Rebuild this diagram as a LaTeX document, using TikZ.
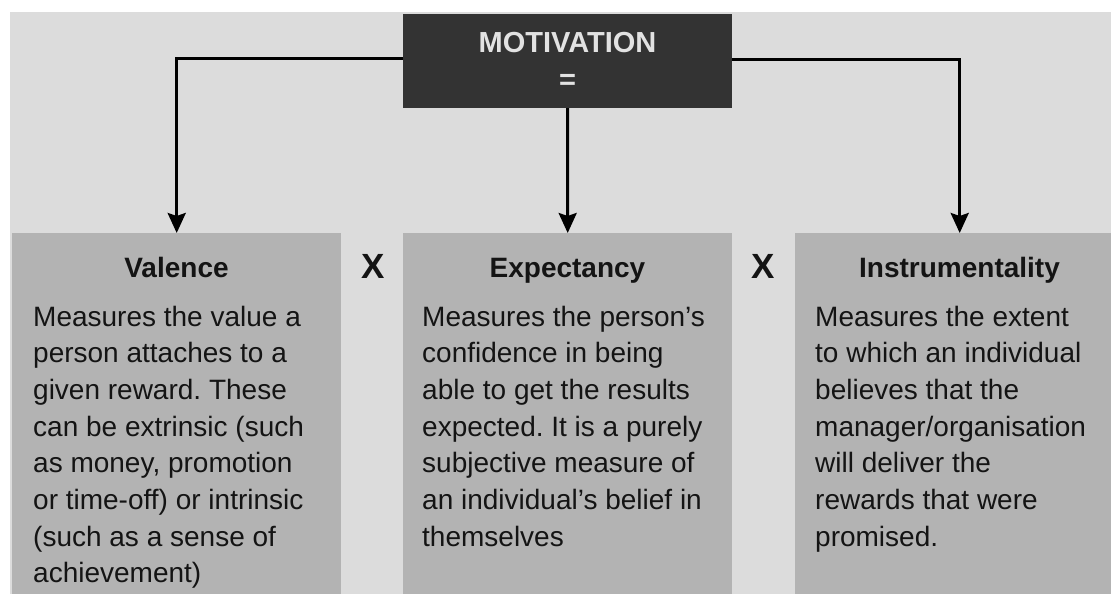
\documentclass[tikz,border=0pt]{standalone}
\usepackage{fontspec}
\setmainfont{Liberation Sans}
\usetikzlibrary{arrows.meta}
\definecolor{bgc}{HTML}{DCDCDC}
\definecolor{boxc}{HTML}{B3B3B3}
\definecolor{darkc}{HTML}{333333}
\definecolor{txtc}{HTML}{141414}
\definecolor{lightc}{HTML}{E2E2E2}
\frenchspacing
\begin{document}
\begin{tikzpicture}[x=1pt,y=-1pt,
  box/.style={fill=boxc, draw=none, minimum width=329pt, minimum height=361pt, anchor=north west, inner sep=0pt},
  motbox/.style={fill=darkc, draw=none, minimum width=329pt, minimum height=94pt, inner sep=0pt, align=center, text=lightc, font=\bfseries\fontsize{29}{37}\selectfont},
  titletext/.style={anchor=base, inner sep=0pt, text=txtc, font=\bfseries\fontsize{28}{34}\selectfont},
  bodytext/.style={anchor=base west, inner sep=0pt, text=txtc, font=\fontsize{28}{36.7}\selectfont},
  timestext/.style={anchor=base, inner sep=0pt, text=txtc, font=\bfseries\fontsize{35}{40}\selectfont},
  conn/.style={line width=3pt, draw=black, -{Stealth[length=20pt,width=18pt,inset=3pt]}}]
\useasboundingbox (0,0) rectangle (1111,594);
\fill[white] (0,0) rectangle (1111,594);
\fill[bgc] (10,12) rectangle (1111,594);
% boxes
\node[box] (val) at (12,233) {};
\node[box] (exp) at (403,233) {};
\node[box] (ins) at (795,233) {};
\node[motbox] (mot) at (567.5,61) {MOTIVATION\\=};
% connectors
\draw[conn] ([yshift=2pt]mot.west) -| (val.north);
\draw[conn] (mot.south) -- (exp.north);
\draw[conn] ([yshift=1pt]mot.east) -| (ins.north);
% titles
\node[titletext] (valt) at (176.5,277) {Valence};
\node[titletext] (expt) at (567.5,277) {Expectancy};
\node[titletext] (inst) at (959.5,277) {Instrumentality};
% multiplication signs
\node[timestext] (x1) at (373,278) {X};
\node[timestext] (x2) at (763,278) {X};
% bodies
\node[bodytext] (valb) at (33,326) {\parbox[t]{310pt}{\raggedright
Measures the value a\\
person attaches to a\\
given reward. These\\
can be extrinsic (such\\
as money, promotion\\
or time-off) or intrinsic\\
(such as a sense of\\
achievement)}};
\node[bodytext] (expb) at (422,326) {\parbox[t]{310pt}{\raggedright
Measures the person’s\\
confidence in being\\
able to get the results\\
expected. It is a purely\\
subjective measure of\\
an individual’s belief in\\
themselves}};
\node[bodytext] (insb) at (815,326) {\parbox[t]{300pt}{\raggedright
Measures the extent\\
to which an individual\\
believes that the\\
manager/organisation\\
will deliver the\\
rewards that were\\
promised.}};
\end{tikzpicture}
\end{document}
